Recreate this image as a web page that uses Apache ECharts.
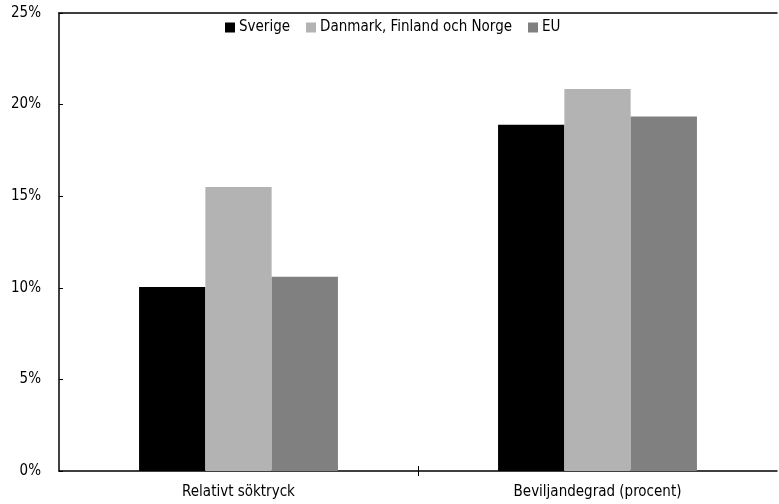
<!DOCTYPE html>
<html>
<head>
<meta charset="utf-8">
<script src="https://cdn.jsdelivr.net/npm/echarts@6/dist/echarts.min.js"></script>
<style>
  html, body { margin: 0; padding: 0; background: #fff; }
  #chart { width: 779px; height: 504px; }
</style>
</head>
<body>
<div id="chart"></div>
<script>
// categories and values (percent)
const categories = ['Relativt söktryck', 'Beviljandegrad (procent)'];
const sverige = [10.05, 18.9];
const nordic = [15.5, 20.85];
const eu = [10.6, 19.35];

const font = '"DejaVu Sans Condensed", "Liberation Sans Narrow", sans-serif';

const chart = echarts.init(document.getElementById('chart'));

// helper axis for the single tick between the groups (crosses the axis line)
const tickAxis = (inside) => ({
  type: 'value',
  position: 'bottom',
  min: 0,
  max: 2,
  axisLine: { show: false },
  splitLine: { show: false },
  axisLabel: { show: false },
  axisTick: { show: true, inside: inside, length: 5, customValues: [1], lineStyle: { color: '#000' } }
});

const option = {
  animation: false,
  backgroundColor: '#fff',
  textStyle: { fontFamily: font },
  legend: {
    top: 15,
    left: 220,
    itemWidth: 10,
    itemHeight: 10,
    itemGap: 16,
    icon: 'rect',
    textStyle: { fontFamily: font, fontSize: 15, color: '#000', padding: [0, 0, 0, -1] },
    data: ['Sverige', 'Danmark, Finland och Norge', 'EU']
  },
  grid: { left: 59, right: 2, top: 13, bottom: 33 },
  xAxis: [
    {
      type: 'category',
      data: categories,
      axisLine: { lineStyle: { color: '#000', width: 1.5 } },
      axisTick: { show: false },
      axisLabel: { fontFamily: font, fontSize: 15, color: '#000', margin: 14 }
    },
    tickAxis(false),
    tickAxis(true),
    {
      type: 'category',
      position: 'top',
      data: categories,
      axisLine: { show: true, lineStyle: { color: '#000', width: 1.5 } },
      axisTick: { show: false },
      axisLabel: { show: false }
    }
  ],
  yAxis: {
    type: 'value',
    min: 0,
    max: 25,
    interval: 5,
    axisLine: { show: true, lineStyle: { color: '#000', width: 1.5 } },
    axisTick: { show: true, inside: true, length: 4, lineStyle: { color: '#000' } },
    splitLine: { show: false },
    axisLabel: {
      fontFamily: font,
      fontSize: 15,
      color: '#000',
      margin: 18,
      formatter: '{value}%'
    }
  },
  series: [
    {
      name: 'Sverige',
      type: 'bar',
      data: sverige,
      barGap: '0%',
      barCategoryGap: '44.6%',
      itemStyle: { color: '#000000' }
    },
    {
      name: 'Danmark, Finland och Norge',
      type: 'bar',
      data: nordic,
      itemStyle: { color: '#b3b3b3' }
    },
    {
      name: 'EU',
      type: 'bar',
      data: eu,
      itemStyle: { color: '#808080' }
    }
  ]
};

chart.setOption(option);
</script>
</body>
</html>
